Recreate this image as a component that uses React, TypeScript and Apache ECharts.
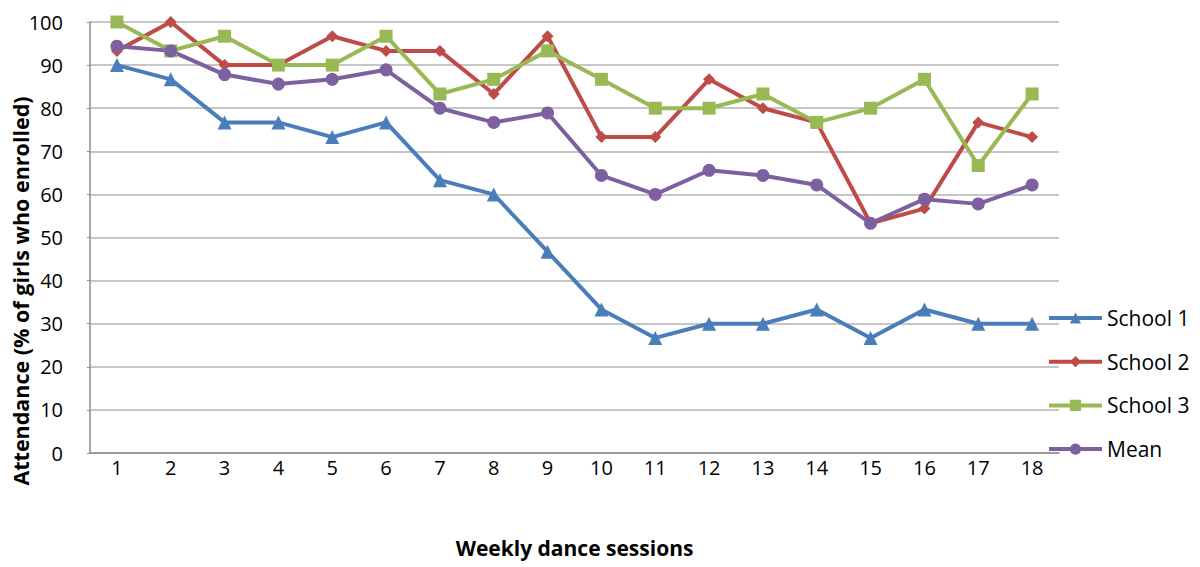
import React, { useEffect, useRef } from "react";
import * as echarts from "echarts";

const sessions = ["1","2","3","4","5","6","7","8","9","10","11","12","13","14","15","16","17","18"];
const school1 = [90, 86.7, 76.7, 76.7, 73.3, 76.7, 63.3, 60, 46.7, 33.3, 26.7, 30, 30, 33.3, 26.7, 33.3, 30, 30];
const school2 = [93.3, 100, 90, 90, 96.7, 93.3, 93.3, 83.3, 96.7, 73.3, 73.3, 86.7, 80, 76.7, 53.3, 56.7, 76.7, 73.3];
const school3 = [100, 93.3, 96.7, 90, 90, 96.7, 83.3, 86.7, 93.3, 86.7, 80, 80, 83.3, 76.7, 80, 86.7, 66.7, 83.3];
const mean = [94.4, 93.3, 87.8, 85.6, 86.7, 88.9, 80, 76.7, 78.9, 64.4, 60, 65.6, 64.4, 62.2, 53.3, 58.9, 57.8, 62.2];

const seriesDefs = [
  { name: "School 1", data: school1, color: "#4A7EBB", symbol: "triangle", size: 14 },
  { name: "School 2", data: school2, color: "#BE4B48", symbol: "diamond", size: 12 },
  { name: "School 3", data: school3, color: "#98B954", symbol: "rect", size: 13 },
  { name: "Mean", data: mean, color: "#7D60A0", symbol: "circle", size: 13 },
];

const FONT = "'Open Sans', 'Liberation Sans', sans-serif";

export default function App() {
  const ref = useRef<HTMLDivElement>(null);
  useEffect(() => {
    if (!ref.current) return;
    const chart = echarts.init(ref.current, null, { renderer: "svg" });
    chart.setOption({
      animation: false,
      backgroundColor: "#ffffff",
      grid: { left: 90, top: 22, right: 141, bottom: 114, outerBoundsMode: "none" },
      legend: {
        orient: "vertical",
        left: 1042,
        top: 300,
        itemWidth: 53,
        itemHeight: 14,
        itemGap: 17.7,
        lineStyle: { width: 4 },
        textStyle: { fontFamily: FONT, fontSize: 21, color: "#000", lineHeight: 26 },
        data: seriesDefs.map((s) => s.name),
      },
      graphic: [
        {
          type: "text",
          x: 20,
          y: 291,
          rotation: Math.PI / 2,
          style: {
            text: "Attendance (% of girls who enrolled)",
            fontFamily: FONT,
            fontSize: 21.5,
            fontWeight: "bold",
            fill: "#000",
            align: "center",
            verticalAlign: "middle",
          },
        },
      ],
      xAxis: {
        type: "category",
        data: sessions,
        boundaryGap: true,
        name: "Weekly dance sessions",
        nameLocation: "middle",
        nameGap: 84,
        nameTextStyle: { fontFamily: FONT, fontSize: 21, fontWeight: "bold", color: "#000" },
        axisLine: { lineStyle: { color: "#8C8C8C", width: 1.5 } },
        axisTick: { show: false },
        axisLabel: { fontFamily: FONT, fontSize: 20, color: "#000", margin: 4 },
      },
      yAxis: {
        type: "value",
        min: 0,
        max: 100,
        interval: 10,
        axisLine: { show: true, lineStyle: { color: "#8C8C8C", width: 1.5 } },
        axisTick: { show: true, length: 3, lineStyle: { color: "#8C8C8C" } },
        axisLabel: { fontFamily: FONT, fontSize: 20, color: "#000", margin: 27 },
        splitLine: { lineStyle: { color: "#B3B3B3", width: 1.5 } },
      },
      series: seriesDefs.map((s) => ({
        name: s.name,
        type: "line",
        data: s.data,
        symbol: s.symbol,
        symbolSize: s.size,
        showSymbol: true,
        lineStyle: { color: s.color, width: 4 },
        itemStyle: { color: s.color },
      })),
    });
    return () => chart.dispose();
  }, []);
  return (
    <div
      ref={ref}
      style={{ position: "fixed", left: 0, top: 0, width: 1200, height: 567, background: "#fff" }}
    />
  );
}
